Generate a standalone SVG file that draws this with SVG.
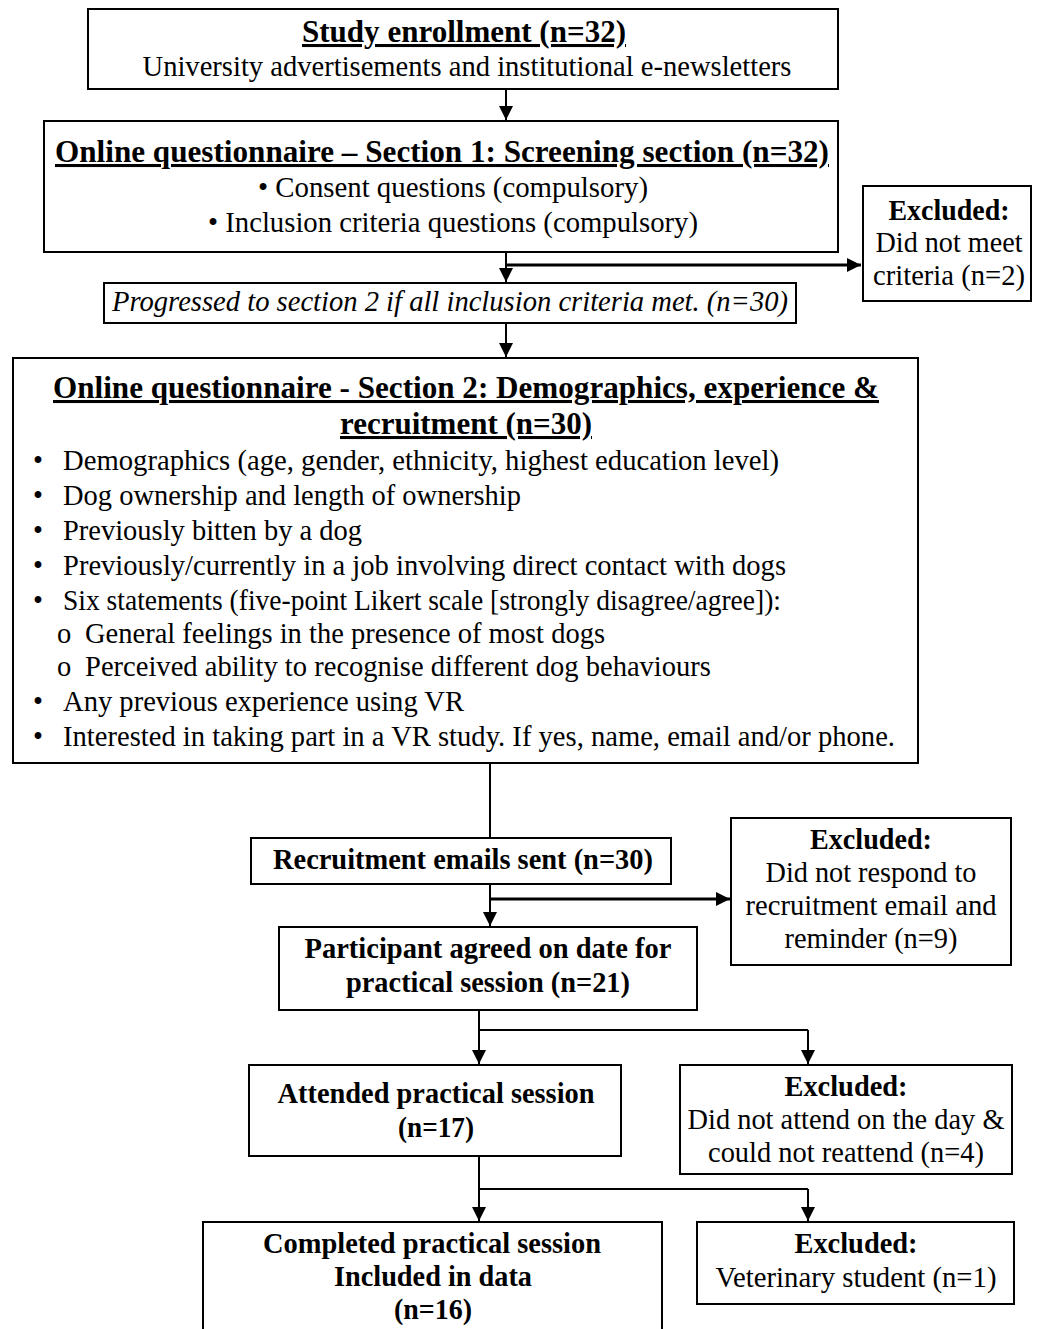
<svg xmlns="http://www.w3.org/2000/svg" width="1039" height="1329" viewBox="0 0 1039 1329">
<style>
text{font-family:"Liberation Serif","Times New Roman",serif;font-size:28.5px;fill:#000}
.b{font-weight:bold}
.u{text-decoration:underline;font-size:30.5px}
.i{font-style:italic}
.c{text-anchor:middle}
rect{fill:#fff;stroke:#000;stroke-width:2}
.ln{fill:none;stroke:#000;stroke-width:2}
</style>
<defs>
<marker id="ah2" viewBox="0 0 10 10" refX="10" refY="5" markerWidth="14" markerHeight="14" markerUnits="userSpaceOnUse" orient="auto">
<path d="M0,0 L10,5 L0,10 Z" fill="#000"/>
</marker>
</defs>
<g id="connectors">
<line class="ln" x1="506" y1="89" x2="506" y2="120" marker-end="url(#ah2)"/>
<line class="ln" x1="506" y1="252" x2="506" y2="282" marker-end="url(#ah2)"/>
<line class="ln" x1="506" y1="265" x2="861" y2="265" style="stroke-width:3" marker-end="url(#ah2)"/>
<line class="ln" x1="506" y1="323" x2="506" y2="357" marker-end="url(#ah2)"/>
<line class="ln" x1="490" y1="763" x2="490" y2="838"/>
<line class="ln" x1="490" y1="884" x2="490" y2="926" marker-end="url(#ah2)"/>
<line class="ln" x1="490" y1="899" x2="730" y2="899" style="stroke-width:3" marker-end="url(#ah2)"/>
<polyline class="ln" points="479,1010 479,1030 808,1030"/>
<line class="ln" x1="479" y1="1030" x2="479" y2="1064" marker-end="url(#ah2)"/>
<line class="ln" x1="808" y1="1030" x2="808" y2="1064" marker-end="url(#ah2)"/>
<polyline class="ln" points="479,1156 479,1189 808,1189"/>
<line class="ln" x1="479" y1="1189" x2="479" y2="1221" marker-end="url(#ah2)"/>
<line class="ln" x1="808" y1="1189" x2="808" y2="1221" marker-end="url(#ah2)"/>
</g>
<g id="enroll">
<rect x="88" y="9" width="750" height="80"/>
<text class="b u c" x="464" y="42" textLength="324" lengthAdjust="spacingAndGlyphs">Study enrollment (n=32)</text>
<text class="c" x="467" y="76" textLength="649" lengthAdjust="spacingAndGlyphs">University advertisements and institutional e-newsletters</text>
</g>
<g id="section1">
<rect x="44" y="121" width="794" height="131"/>
<text class="b u c" x="442" y="162" textLength="774" lengthAdjust="spacingAndGlyphs">Online questionnaire – Section 1: Screening section (n=32)</text>
<text class="c" x="453" y="197" textLength="390" lengthAdjust="spacingAndGlyphs">• Consent questions (compulsory)</text>
<text class="c" x="453" y="232" textLength="490" lengthAdjust="spacingAndGlyphs">• Inclusion criteria questions (compulsory)</text>
</g>
<g id="excluded1">
<rect x="863" y="186" width="168" height="115"/>
<text class="b c" x="949" y="220" textLength="121" lengthAdjust="spacingAndGlyphs">Excluded:</text>
<text class="c" x="949" y="252" textLength="147" lengthAdjust="spacingAndGlyphs">Did not meet</text>
<text class="c" x="949" y="285" textLength="152" lengthAdjust="spacingAndGlyphs">criteria (n=2)</text>
</g>
<g id="progressed">
<rect x="104" y="283" width="692" height="40"/>
<text class="i c" x="450" y="311" textLength="676" lengthAdjust="spacingAndGlyphs">Progressed to section 2 if all inclusion criteria met. (n=30)</text>
</g>
<g id="section2">
<rect x="13" y="358" width="905" height="405"/>
<text class="b u c" x="466" y="398" textLength="826" lengthAdjust="spacingAndGlyphs">Online questionnaire - Section 2: Demographics, experience &amp;</text>
<text class="b u c" x="466" y="434" textLength="252" lengthAdjust="spacingAndGlyphs">recruitment (n=30)</text>
<text x="33" y="470">•</text><text x="63" y="470" textLength="716" lengthAdjust="spacingAndGlyphs">Demographics (age, gender, ethnicity, highest education level)</text>
<text x="33" y="505">•</text><text x="63" y="505" textLength="458" lengthAdjust="spacingAndGlyphs">Dog ownership and length of ownership</text>
<text x="33" y="540">•</text><text x="63" y="540" textLength="299" lengthAdjust="spacingAndGlyphs">Previously bitten by a dog</text>
<text x="33" y="575">•</text><text x="63" y="575" textLength="723" lengthAdjust="spacingAndGlyphs">Previously/currently in a job involving direct contact with dogs</text>
<text x="33" y="610">•</text><text x="63" y="610" textLength="718" lengthAdjust="spacingAndGlyphs">Six statements (five-point Likert scale [strongly disagree/agree]):</text>
<text x="57" y="643">o</text><text x="85" y="643" textLength="520" lengthAdjust="spacingAndGlyphs">General feelings in the presence of most dogs</text>
<text x="57" y="676">o</text><text x="85" y="676" textLength="626" lengthAdjust="spacingAndGlyphs">Perceived ability to recognise different dog behaviours</text>
<text x="33" y="711">•</text><text x="63" y="711" textLength="401" lengthAdjust="spacingAndGlyphs">Any previous experience using VR</text>
<text x="33" y="746">•</text><text x="63" y="746" textLength="832" lengthAdjust="spacingAndGlyphs">Interested in taking part in a VR study. If yes, name, email and/or phone.</text>
</g>
<g id="emails">
<rect x="251" y="838" width="420" height="46"/>
<text class="b c" x="463" y="869" textLength="380" lengthAdjust="spacingAndGlyphs">Recruitment emails sent (n=30)</text>
</g>
<g id="excluded2">
<rect x="731" y="818" width="280" height="147"/>
<text class="b c" x="871" y="849" textLength="122" lengthAdjust="spacingAndGlyphs">Excluded:</text>
<text class="c" x="871" y="882" textLength="211" lengthAdjust="spacingAndGlyphs">Did not respond to</text>
<text class="c" x="871" y="915" textLength="251" lengthAdjust="spacingAndGlyphs">recruitment email and</text>
<text class="c" x="871" y="948" textLength="173" lengthAdjust="spacingAndGlyphs">reminder (n=9)</text>
</g>
<g id="agreed">
<rect x="279" y="927" width="418" height="83"/>
<text class="b c" x="488" y="958" textLength="367" lengthAdjust="spacingAndGlyphs">Participant agreed on date for</text>
<text class="b c" x="488" y="992" textLength="284" lengthAdjust="spacingAndGlyphs">practical session (n=21)</text>
</g>
<g id="attended">
<rect x="249" y="1065" width="372" height="91"/>
<text class="b c" x="436" y="1103" textLength="317" lengthAdjust="spacingAndGlyphs">Attended practical session</text>
<text class="b c" x="436" y="1137" textLength="76" lengthAdjust="spacingAndGlyphs">(n=17)</text>
</g>
<g id="excluded3">
<rect x="680" y="1065" width="332" height="109"/>
<text class="b c" x="846" y="1096" textLength="123" lengthAdjust="spacingAndGlyphs">Excluded:</text>
<text class="c" x="846" y="1129" textLength="317" lengthAdjust="spacingAndGlyphs">Did not attend on the day &amp;</text>
<text class="c" x="846" y="1162" textLength="276" lengthAdjust="spacingAndGlyphs">could not reattend (n=4)</text>
</g>
<g id="completed">
<rect x="203" y="1222" width="459" height="120"/>
<text class="b c" x="432" y="1253" textLength="338" lengthAdjust="spacingAndGlyphs">Completed practical session</text>
<text class="b c" x="433" y="1286" textLength="198" lengthAdjust="spacingAndGlyphs">Included in data</text>
<text class="b c" x="433" y="1319" textLength="78" lengthAdjust="spacingAndGlyphs">(n=16)</text>
</g>
<g id="excluded4">
<rect x="697" y="1222" width="317" height="82"/>
<text class="b c" x="856" y="1253" textLength="123" lengthAdjust="spacingAndGlyphs">Excluded:</text>
<text class="c" x="856" y="1287" textLength="281" lengthAdjust="spacingAndGlyphs">Veterinary student (n=1)</text>
</g>
</svg>
